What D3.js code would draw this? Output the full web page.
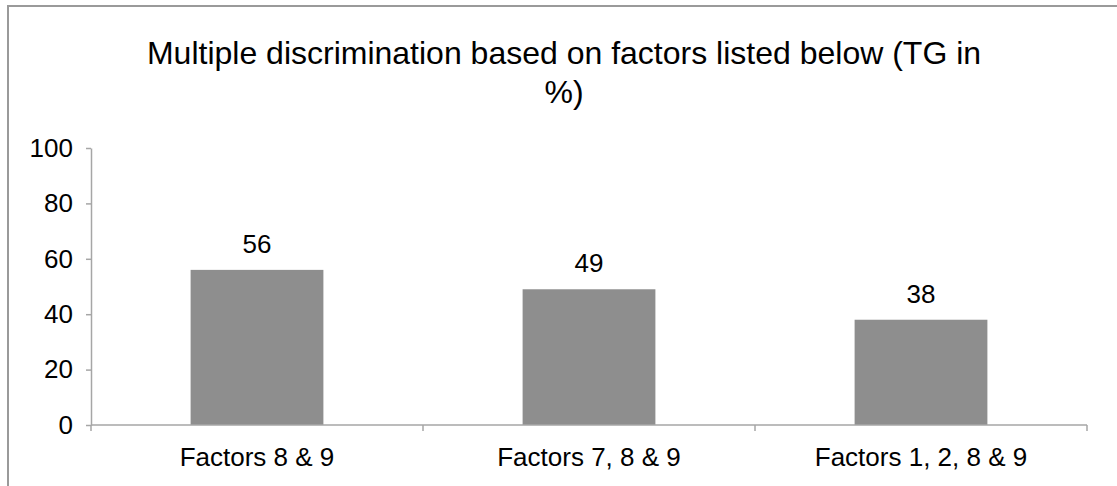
<!DOCTYPE html>
<html>
<head>
<meta charset="utf-8">
<script src="https://cdn.jsdelivr.net/npm/d3@7"></script>
<style>
  html, body { margin: 0; padding: 0; background: #fff; }
  svg { display: block; font-family: "Liberation Sans", Arial, Helvetica, sans-serif; }
</style>
</head>
<body>
<svg id="chart" width="1117" height="486"></svg>
<script>
const categories = ["Factors 8 & 9", "Factors 7, 8 & 9", "Factors 1, 2, 8 & 9"];
const values = [56, 49, 38];
const yTicks = [0, 20, 40, 60, 80, 100];
const titleLines = ["Multiple discrimination based on factors listed below (TG in", "%)"];

const svg = d3.select("#chart");
const plot = { left: 91, right: 1087, top: 148, bottom: 425 };
const axisColor = "#a6a6a6";
const labelSize = 26;

// outer frame (extends beyond the picture on right and bottom)
svg.append("rect")
  .attr("x", 8).attr("y", 6)
  .attr("width", 1130).attr("height", 500)
  .attr("fill", "none").attr("stroke", "#9a9a9a").attr("stroke-width", 2);

// title
const title = svg.append("text")
  .attr("text-anchor", "middle")
  .attr("font-size", 32)
  .attr("fill", "#000");
titleLines.forEach((t, i) => {
  title.append("tspan").attr("x", 564).attr("y", 64 + i * 39).text(t);
});

const x = d3.scaleBand().domain(categories).range([plot.left, plot.right]).paddingInner(0.6).paddingOuter(0.3);
const xOuter = d3.scaleBand().domain(categories).range([plot.left, plot.right]);
const y = d3.scaleLinear().domain([0, 100]).range([plot.bottom, plot.top]);

// y axis
const yAxis = svg.append("g")
  .attr("transform", `translate(${plot.left},0)`)
  .call(d3.axisLeft(y).tickValues(yTicks).tickSize(5).tickPadding(13).tickSizeOuter(0));
yAxis.select(".domain").attr("stroke", axisColor).attr("stroke-width", 1.5);
yAxis.selectAll(".tick line").attr("stroke", axisColor).attr("stroke-width", 1.5);
yAxis.selectAll(".tick text").attr("font-size", labelSize).attr("fill", "#000")
  .attr("font-family", "Liberation Sans, Arial, sans-serif");

// bars
svg.append("g").selectAll("rect")
  .data(categories)
  .join("rect")
  .attr("x", d => x(d))
  .attr("width", x.bandwidth())
  .attr("y", (d, i) => y(values[i]))
  .attr("height", (d, i) => y(0) - y(values[i]))
  .attr("fill", "#8e8e8e");

// x axis line and boundary ticks
const xg = svg.append("g");
xg.append("line")
  .attr("x1", plot.left).attr("x2", plot.right)
  .attr("y1", y(0)).attr("y2", y(0))
  .attr("stroke", axisColor).attr("stroke-width", 1.5);
const bounds = categories.map(c => xOuter(c)).concat([plot.right]);
xg.selectAll("line.b").data(bounds).join("line")
  .attr("class", "b")
  .attr("x1", d => d).attr("x2", d => d)
  .attr("y1", y(0)).attr("y2", y(0) + 6)
  .attr("stroke", axisColor).attr("stroke-width", 1.5);

// category labels
svg.append("g").selectAll("text")
  .data(categories)
  .join("text")
  .attr("x", d => xOuter(d) + xOuter.bandwidth() / 2)
  .attr("y", 466)
  .attr("text-anchor", "middle")
  .attr("font-size", labelSize)
  .attr("fill", "#000")
  .text(d => d);

// data labels
svg.append("g").selectAll("text")
  .data(categories)
  .join("text")
  .attr("x", d => x(d) + x.bandwidth() / 2)
  .attr("y", (d, i) => y(values[i]) - 17)
  .attr("text-anchor", "middle")
  .attr("font-size", labelSize)
  .attr("fill", "#000")
  .text((d, i) => values[i]);
</script>
</body>
</html>
